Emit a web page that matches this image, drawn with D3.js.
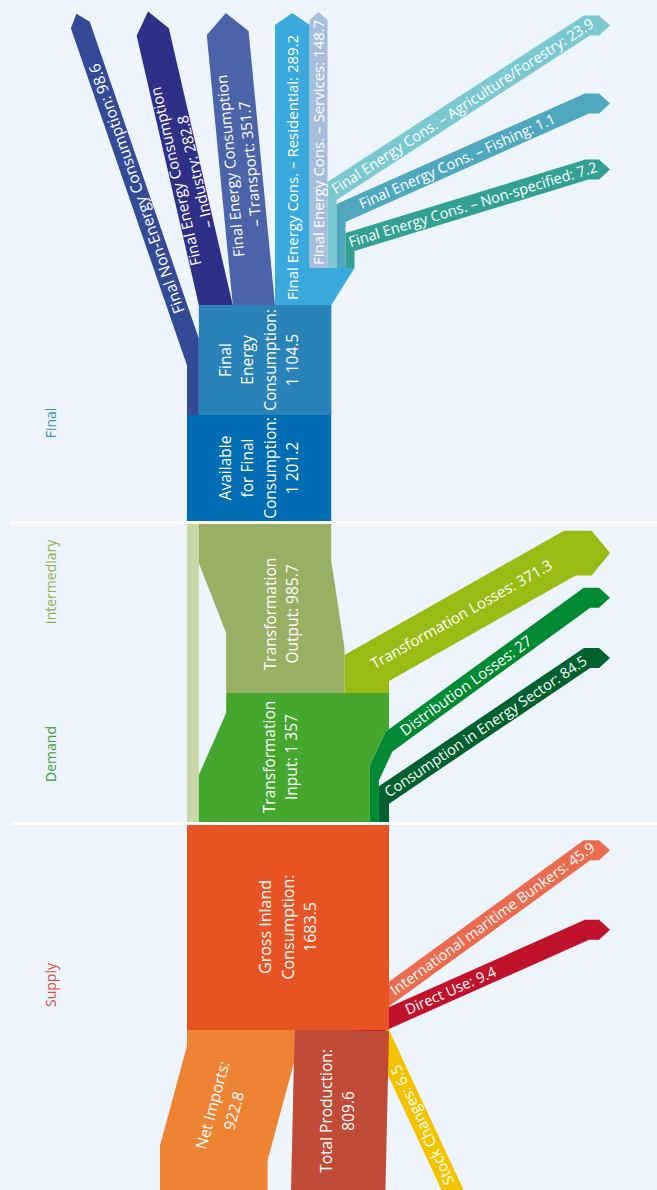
<!DOCTYPE html>
<html>
<head>
<meta charset="utf-8">
<script src="https://cdn.jsdelivr.net/npm/d3@7"></script>
<style>
  html, body { margin: 0; padding: 0; background: #edf4fb; }
  svg { display: block; font-family: 'Open Sans', 'Noto Sans', sans-serif; }
</style>
</head>
<body>
<script>
const width = 657;
const height = 1190;

// energy balance values
const supplyInNames = ['Net Imports', 'Total Production'];
const supplyInValues = [922.8, 809.6];
const stockChanges = 6.5;
const supplyOutNames = ['International maritime Bunkers', 'Direct Use'];
const supplyOutValues = [45.9, 9.4];
const grossInland = 1683.5;
const transformationInput = 1357;
const transformationOutput = 985.7;
const demandOutNames = ['Transformation Losses', 'Distribution Losses', 'Consumption in Energy Sector'];
const demandOutValues = [371.3, 27, 84.5];
const availableFinal = 1201.2;
const finalEnergy = 1104.5;
const nonEnergy = 98.6;
const sectorNames = ['Industry', 'Transport', 'Residential', 'Services', 'Agriculture/Forestry', 'Fishing', 'Non-specified'];
const sectorValues = [282.8, 351.7, 289.2, 148.7, 23.9, 1.1, 7.2];
const sectionNames = ['Final', 'Intermediary', 'Demand', 'Supply'];

// colours
const sectorColors = ['#2e3087', '#4a63a9', '#3aa9dd', '#a6bddb', '#7cc8d0', '#50a8be', '#33a192'];
const demandOutColors = ['#99bc14', '#008a33', '#00612f'];
const supplyOutColors = ['#eb6b4f', '#c0132b'];
const supplyInColors = ['#ef8334', '#c04b36'];
const sectionColors = ['#3d8fc6', '#8fb04e', '#3e9e36', '#d4533a'];

const svg = d3.select('body').append('svg')
  .attr('width', width)
  .attr('height', height);

svg.append('rect')
  .attr('width', width)
  .attr('height', height)
  .attr('fill', '#edf4fb');

const w = d3.scaleLinear().domain([0, 1700]).range([0, 204]);
const stubW = v => Math.max(9, w(v));
const diagW = v => Math.max(20, w(v));
const rad = a => a * Math.PI / 180;
const fmt = d3.formatLocale({ decimal: '.', thousands: ' ', grouping: [3], currency: ['', ''] }).format(',');
const line = d3.line().curve(d3.curveLinearClosed);
const tipX = 610;
const arrowFont = 14.5;

function meet(p, d, q, e) {
  const den = d[0] * e[1] - d[1] * e[0];
  if (Math.abs(den) < 1e-9) return q;
  const t = ((q[0] - p[0]) * e[1] - (q[1] - p[1]) * e[0]) / den;
  return [p[0] + t * d[0], p[1] + t * d[1]];
}

// band of given half widths around a centre polyline, mitred corners
function band(pts, hws) {
  const segs = d3.pairs(pts).map(([a, b], i) => {
    const len = Math.hypot(b[0] - a[0], b[1] - a[1]);
    const d = [(b[0] - a[0]) / len, (b[1] - a[1]) / len];
    return { a, d, n: [d[1], -d[0]], h: hws[i] };
  });
  const side = s => {
    const off = (p, g) => [p[0] + s * g.h * g.n[0], p[1] + s * g.h * g.n[1]];
    const out = [off(pts[0], segs[0])];
    for (let i = 1; i < segs.length; i++) {
      const g = segs[i - 1], k = segs[i];
      out.push(meet(off(g.a, g), g.d, off(k.a, k), k.d));
    }
    out.push(off(pts[pts.length - 1], segs[segs.length - 1]));
    return out;
  };
  return { left: side(1), right: side(-1), end: pts[pts.length - 1], d: segs[segs.length - 1].d };
}

function withTip(b, tip) {
  const apex = [b.end[0] + b.d[0] * tip, b.end[1] + b.d[1] * tip];
  return [...b.left, apex, ...b.right.slice().reverse()];
}

function plain(b) {
  return [...b.left, ...b.right.slice().reverse()];
}

function toRight(pre, preH, angle, wd) {
  const tip = wd * 0.3 + 5;
  const tag = wd * 0.4 + 4;
  const s = pre[pre.length - 1];
  const xs = tipX - tip - tag;
  const ys = s[1] - (xs - s[0]) * Math.tan(rad(angle));
  const b = band([...pre, [xs, ys], [tipX - tip, ys]], [...preH, wd / 2, wd / 2]);
  return { poly: withTip(b, tip), b, at: x => [x, s[1] - (x - s[0]) * Math.tan(rad(angle))] };
}

function drawPoly(poly, fill) {
  svg.append('path').attr('d', line(poly)).attr('fill', fill);
}

const labels = [];
function label(x, y, angle, lines, size, anchor = 'middle', lh = 20, fill = '#fff') {
  labels.push({ x, y, angle, lines, size, anchor, lh, fill });
}

// ---------- Final ----------
const xL = 187;
const xFec = xL + w(nonEnergy);
const fecRight = xFec + w(finalEnergy);
const availRight = xL + w(availableFinal);
const yFan = 268, yFec = 305, yAvail = 415, yAvailBot = 521;

let cursor = xFec;
const sectors = sectorNames.map((name, i) => {
  const v = sectorValues[i];
  const sw = i < 4 ? w(v) : stubW(v);
  const s = { name, v, x: cursor, sw, color: sectorColors[i] };
  cursor += sw;
  return s;
});
const fanRight = cursor;

// non-energy arrow
const neC = xL + w(nonEnergy) / 2;
const neTilt = 19, neBend = 352, neEnd = 25;
const neTop = [neC - (neBend - neEnd) * Math.tan(rad(neTilt)), neEnd];
const neB = band([[neC, yAvail + 8], [neC, neBend], neTop], [w(nonEnergy) / 2, diagW(nonEnergy) / 2]);
drawPoly(withTip(neB, 12), '#334a96');
{
  const y = 313;
  const x = neC - (neBend - y) * Math.tan(rad(neTilt));
  label(x, y, -90 - neTilt, [`Final Non-Energy Consumption: ${fmt(nonEnergy)}`], 15.5, 'start');
}

// fan of upward arrows
const fanLayout = [
  { tilt: 13, y0: yFec, endY: 32, tip: 21, labelY: 174 },
  { tilt: 5.5, y0: yFec, endY: 33, tip: 20, labelY: 165 },
  { tilt: 0, y0: yFan, endY: 25, tip: 12, labelY: 300 },
  { tilt: 0, y0: yFan, endY: 20, tip: 8, labelY: 265 },
];
fanLayout.forEach((f, i) => {
  const s = sectors[i];
  const t = Math.tan(rad(f.tilt));
  const c0 = s.x + s.sw / 2;
  const pw = s.sw * Math.cos(rad(f.tilt));
  const sink = i < 2 ? 8 : 0;
  const b = band([[c0 + sink * t, f.y0 + sink], [c0 - (f.y0 - f.endY) * t, f.endY]], [pw / 2]);
  drawPoly(withTip(b, f.tip), s.color);
  const lx = c0 - (f.y0 - f.labelY) * t;
  if (i < 2) {
    label(lx, f.labelY, -90 - f.tilt, ['Final Energy Consumption', `– ${s.name}: ${fmt(s.v)}`], 15, 'middle', 20);
  } else {
    label(lx, f.labelY, -90, [`Final Energy Cons. – ${s.name}: ${fmt(s.v)}`], 15, 'start');
  }
});

// arrows turning right
const sideLayout = [
  { bendY: 191, angle: 33, labelX: 333 },
  { bendY: 213, angle: 24, labelX: 360 },
  { bendY: 242, angle: 17, labelX: 349 },
];
sideLayout.forEach((f, j) => {
  const s = sectors[4 + j];
  const c0 = s.x + s.sw / 2;
  const a = toRight([[c0, yFan], [c0, f.bendY]], [s.sw / 2], f.angle, diagW(s.v));
  drawPoly(a.poly, s.color);
  const [lx, ly] = a.at(f.labelX);
  label(lx, ly, -f.angle, [`Final Energy Cons. – ${s.name}: ${fmt(s.v)}`], arrowFont, 'start');
});

// widening block under the right-hand sectors
drawPoly([[sectors[2].x, yFec], [fecRight, yFec], [fanRight, yFan], [sectors[2].x, yFan]], sectorColors[2]);

svg.append('rect')
  .attr('x', xFec).attr('y', yFec)
  .attr('width', fecRight - xFec).attr('height', yAvail - yFec)
  .attr('fill', '#2982b8');
label((xL + availRight) / 2, (yFec + yAvail) / 2, -90, ['Final', 'Energy', 'Consumption:', fmt(finalEnergy)], 15.5, 'middle', 22.5);

svg.append('rect')
  .attr('x', xL).attr('y', yAvail)
  .attr('width', availRight - xL).attr('height', yAvailBot - yAvail)
  .attr('fill', '#006cb4');
label((xL + availRight) / 2, (yAvail + yAvailBot) / 2, -90, ['Available', 'for Final', 'Consumption:', fmt(availableFinal)], 15.5, 'middle', 22.5);

// ---------- Intermediary / Demand ----------
const xR = xL + w(grossInland);
const yIntTop = 524, yTr = 693, yIntBot = 822;
const [lossV, distV, energyV] = demandOutValues;
const energyX = xR - stubW(energyV);
const distX = energyX - stubW(distV);
const inTopX = xR - w(transformationInput);
const toBotRight = inTopX + w(transformationOutput);

// transformation losses
{
  const c0 = (toBotRight + xR) / 2;
  const a = toRight([[c0, yTr + 8], [c0, 668]], [w(lossV) / 2], 29.5, diagW(lossV));
  drawPoly(a.poly, demandOutColors[0]);
  const [lx, ly] = a.at(372);
  label(lx, ly, -29.5, [`${demandOutNames[0]}: ${fmt(lossV)}`], 15, 'start');
}

// distribution losses
const distC = distX + stubW(distV) / 2;
const distSteep = [xR, 773 - (xR - distC) * Math.tan(rad(65))];
const distA = toRight([[distC, yIntBot], [distC, 773], distSteep],
  [stubW(distV) / 2, (stubW(distV) + diagW(distV)) / 4], 36, diagW(distV));

// consumption in energy sector
const energyC = energyX + stubW(energyV) / 2;
const energyA = toRight([[energyC, yIntBot], [energyC, 795]], [stubW(energyV) / 2], 34, diagW(energyV));

// pale strip
svg.append('rect')
  .attr('x', xL).attr('y', yIntTop)
  .attr('width', xFec - xL).attr('height', yIntBot - yIntTop)
  .attr('fill', '#c9d7a7');

// transformation output
drawPoly([[xFec, yIntTop], [availRight, yIntTop], [availRight, 560], [toBotRight, 648],
  [toBotRight, yTr], [inTopX, yTr], [inTopX, 633], [xFec, 563]], '#98b063');
label((inTopX + toBotRight) / 2 - 4, 614, -90, ['Transformation', `Output: ${fmt(transformationOutput)}`], 15.5, 'middle', 22.5);

// transformation input, right side follows the distribution band
function clipLeftOf(points, xMax) {
  const out = [];
  for (let i = 0; i < points.length; i++) {
    const p = points[i];
    if (p[0] <= xMax) { out.push(p); continue; }
    const q = points[i - 1];
    const t = (xMax - q[0]) / (p[0] - q[0]);
    out.push([xMax, q[1] + t * (p[1] - q[1])]);
    break;
  }
  return out;
}
const distEdge = clipLeftOf(distA.b.left, xR);
drawPoly([[xFec, yIntBot], [xFec, 775], [inTopX, 713], [inTopX, yTr], [xR, yTr], ...distEdge.slice().reverse()], '#46a72f');
label((xFec + distX) / 2 - 4, 757, -90, ['Transformation', `Input: ${fmt(transformationInput)}`], 15.5, 'middle', 22.5);

drawPoly(distA.poly, demandOutColors[1]);
drawPoly(energyA.poly, demandOutColors[2]);
{
  const [lx, ly] = distA.at(402);
  label(lx, ly, -36, [`${demandOutNames[1]}: ${fmt(distV)}`], 15, 'start');
  const [ex, ey] = energyA.at(386);
  label(ex, ey, -34, [`${demandOutNames[2]}: ${fmt(energyV)}`], arrowFont, 'start');
}

// ---------- Supply ----------
const yGross = 825, yGrossBot = 1030;

// stock changes, leaving the lower right corner
{
  const sw = diagW(stockChanges);
  const d = [Math.cos(rad(65)), Math.sin(rad(65))];
  const n = [d[1], -d[0]];
  const c = [xR - n[0] * sw / 2, yGrossBot - n[1] * sw / 2];
  const b = band([[c[0] - d[0] * 25, c[1] - d[1] * 25], [c[0] + d[0] * 200, c[1] + d[1] * 200]], [sw / 2]);
  drawPoly(plain(b), '#f3c300');
  const t = (1066 - c[1]) / d[1];
  label(c[0] + d[0] * t, 1066, -115, [`Stock Changes: ${fmt(stockChanges)}`], 15, 'end');
}

// bunkers and direct use
const outLayout = [
  { yc: 994, angle: 36, labelX: 392 },
  { yc: 1018, angle: 24, labelX: 406 },
];
outLayout.forEach((f, i) => {
  const v = supplyOutValues[i];
  const start = [xR - 40, f.yc + 40 * Math.tan(rad(f.angle))];
  const a = toRight([start], [], f.angle, diagW(v));
  drawPoly(a.poly, supplyOutColors[i]);
  const [lx, ly] = a.at(f.labelX);
  label(lx, ly, -f.angle, [`${supplyOutNames[i]}: ${fmt(v)}`], arrowFont, 'start');
});

// imports and production share the bottom edge of gross inland consumption
const split = d3.scaleLinear().domain([0, d3.sum(supplyInValues)]).range([0, xR - xL]);
{
  const wi = split(supplyInValues[0]);
  const c0 = xL + wi / 2;
  const shift = 27;
  const b = band([[c0, yGrossBot], [c0, 1053], [c0 - shift, 1153], [c0 - shift, 1210]], [wi / 2, wi / 2, wi / 2]);
  drawPoly(plain(b), supplyInColors[0]);
  const ang = Math.atan2(-100, shift) * 180 / Math.PI;
  label(c0 - shift / 2 - 4, 1108, ang, [`${supplyInNames[0]}:`, fmt(supplyInValues[0])], 15.5, 'middle', 22);

  const wp = split(supplyInValues[1]);
  const c1 = xL + wi + wp / 2;
  const bp = band([[c1, yGrossBot], [c1 - 4, 1210]], [wp / 2]);
  drawPoly(plain(bp), supplyInColors[1]);
  label(c1 - 4, 1111, -90, [`${supplyInNames[1]}:`, fmt(supplyInValues[1])], 15.5, 'middle', 22);
}

svg.append('rect')
  .attr('x', xL).attr('y', yGross)
  .attr('width', xR - xL).attr('height', yGrossBot - yGross)
  .attr('fill', '#e75322');
label((xL + xR) / 2, 927, -90, ['Gross Inland', 'Consumption:', String(grossInland)], 16, 'middle', 22.5);

// ---------- separators ----------
[522.5, 823.5].forEach(y => {
  svg.append('line')
    .attr('x1', 10).attr('x2', width)
    .attr('y1', y).attr('y2', y)
    .attr('stroke', '#ffffff')
    .attr('stroke-width', 3);
});

// ---------- text ----------
labels.forEach(l => {
  const t = svg.append('text')
    .attr('transform', `translate(${l.x},${l.y}) rotate(${l.angle})`)
    .attr('text-anchor', l.anchor)
    .attr('fill', l.fill)
    .attr('font-size', l.size);
  l.lines.forEach((s, i) => {
    t.append('tspan')
      .attr('x', 0)
      .attr('y', (i - (l.lines.length - 1) / 2) * l.lh)
      .attr('dy', '0.35em')
      .text(s);
  });
});

const sectionY = [423, 582, 754, 985];
svg.append('g')
  .selectAll('text')
  .data(sectionNames)
  .join('text')
  .attr('transform', (d, i) => `translate(51,${sectionY[i]}) rotate(-90)`)
  .attr('text-anchor', 'middle')
  .attr('dy', '0.35em')
  .attr('font-size', 14)
  .attr('fill', (d, i) => sectionColors[i])
  .text(d => d);
</script>
</body>
</html>
